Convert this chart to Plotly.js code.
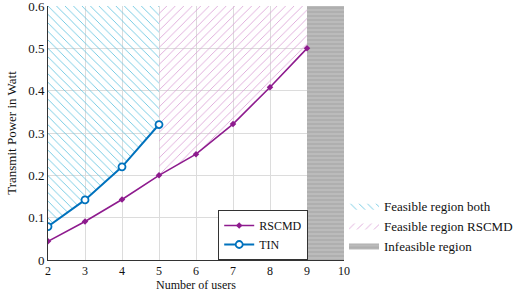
<!DOCTYPE html>
<html>
<head>
<meta charset="utf-8">
<script src="https://cdn.plot.ly/plotly-3.0.1.min.js"></script>
<style>html,body{margin:0;padding:0;background:#fff;}#chart{width:514px;height:292px;}</style>
</head>
<body>
<div id="chart"></div>
<script>
// Data
const usersRSCMD = [2, 3, 4, 5, 6, 7, 8, 9];
const powerRSCMD = [0.044, 0.091, 0.143, 0.2, 0.25, 0.321, 0.408, 0.5];
const usersTIN = [2, 3, 4, 5];
const powerTIN = [0.079, 0.142, 0.22, 0.32];
const yMax = 0.6;
const xMax = 10;
const infeasibleFrom = 9;
const xTicks = [2, 3, 4, 5, 6, 7, 8, 9, 10];
const yTicks = [0, 0.1, 0.2, 0.3, 0.4, 0.5, 0.6];
const yTickText = ['0', '0.1', '0.2', '0.3', '0.4', '0.5', '0.6'];
const regionNames = ['Feasible region both', 'Feasible region RSCMD', 'Infeasible region'];

const purple = '#8e1b8e';
const blue = '#0072bd';
const serif = "'Liberation Serif', 'DejaVu Serif', serif";

// Region polygons built from the data arrays
const bothX = usersTIN.concat([usersTIN[usersTIN.length - 1], usersTIN[0]]);
const bothY = powerTIN.concat([yMax, yMax]);
const startIdx = usersRSCMD.indexOf(usersTIN[usersTIN.length - 1]);
const rsX = usersRSCMD.slice(startIdx).concat([usersRSCMD[usersRSCMD.length - 1], usersRSCMD[startIdx]]);
const rsY = powerRSCMD.slice(startIdx).concat([yMax, yMax]);
const infX = [infeasibleFrom, xMax, xMax, infeasibleFrom];
const infY = [0, 0, yMax, yMax];

const traces = [
  {x: bothX, y: bothY, type: 'scatter', mode: 'lines', fill: 'toself', name: regionNames[0],
   line: {width: 0, color: 'rgba(0,0,0,0)'}, fillcolor: 'rgba(0,0,0,0)',
   fillpattern: {shape: '\\', fgcolor: '#62c3df', bgcolor: 'rgba(255,255,255,0)', size: 6, solidity: 0.14},
   legend: 'legend2', hoverinfo: 'skip'},
  {x: rsX, y: rsY, type: 'scatter', mode: 'lines', fill: 'toself', name: regionNames[1],
   line: {width: 0, color: 'rgba(0,0,0,0)'}, fillcolor: 'rgba(0,0,0,0)',
   fillpattern: {shape: '/', fgcolor: '#dba2d7', bgcolor: 'rgba(255,255,255,0)', size: 6, solidity: 0.14},
   legend: 'legend2', hoverinfo: 'skip'},
  {x: infX, y: infY, type: 'scatter', mode: 'lines', fill: 'toself', name: regionNames[2],
   line: {width: 0, color: 'rgba(0,0,0,0)'}, fillcolor: '#b8b8b8',
   fillpattern: {shape: '-', fgcolor: '#a8a8a8', bgcolor: '#bbbbbb', size: 4, solidity: 0.3},
   legend: 'legend2', hoverinfo: 'skip'},
  {x: usersRSCMD, y: powerRSCMD, type: 'scatter', mode: 'lines+markers', name: 'RSCMD',
   line: {color: purple, width: 1.6},
   marker: {symbol: 'diamond', size: 5, color: purple}, legend: 'legend'},
  {x: usersTIN, y: powerTIN, type: 'scatter', mode: 'lines+markers', name: 'TIN',
   line: {color: blue, width: 2},
   marker: {symbol: 'circle', size: 7, color: '#ffffff', line: {color: blue, width: 1.8}}, legend: 'legend'}
];

const layout = {
  width: 514, height: 292,
  margin: {l: 48, r: 170, t: 6, b: 32, autoexpand: false},
  paper_bgcolor: '#ffffff', plot_bgcolor: '#ffffff',
  font: {family: serif, size: 13, color: '#111'},
  showlegend: true,
  xaxis: {
    range: [2, 10], tickvals: xTicks, ticktext: xTicks.map(String),
    showgrid: true, gridcolor: '#dcdcdc', gridwidth: 1,
    zeroline: false, showline: true, linecolor: '#333', linewidth: 1,
    ticks: '', tickfont: {family: serif, size: 12}, ticklabeloverflow: 'allow',
    automargin: true,
    title: {text: 'Number of users', font: {family: serif, size: 12}, standoff: 3}
  },
  yaxis: {
    range: [0, 0.6], tickvals: yTicks, ticktext: yTickText,
    showgrid: true, gridcolor: '#dcdcdc', gridwidth: 1,
    zeroline: false, showline: true, linecolor: '#333', linewidth: 1,
    ticks: '', tickfont: {family: serif, size: 13}, ticklabeloverflow: 'allow',
    automargin: false,
    title: {text: 'Transmit Power in Watt', font: {family: serif, size: 13}, standoff: 8}
  },
  legend: {
    x: 0.575, y: 0, xanchor: 'left', yanchor: 'bottom',
    bgcolor: '#ffffff', bordercolor: '#333', borderwidth: 1,
    font: {family: serif, size: 12}, tracegroupgap: 0, itemwidth: 30,
    traceorder: 'normal'
  },
  legend2: {
    x: 1.0, y: 0.135, xanchor: 'left', yanchor: 'middle',
    bgcolor: 'rgba(0,0,0,0)', borderwidth: 0,
    font: {family: serif, size: 13}, itemwidth: 30, traceorder: 'normal'
  }
};

Plotly.newPlot('chart', traces, layout, {displayModeBar: false, staticPlot: true});
</script>
</body>
</html>
